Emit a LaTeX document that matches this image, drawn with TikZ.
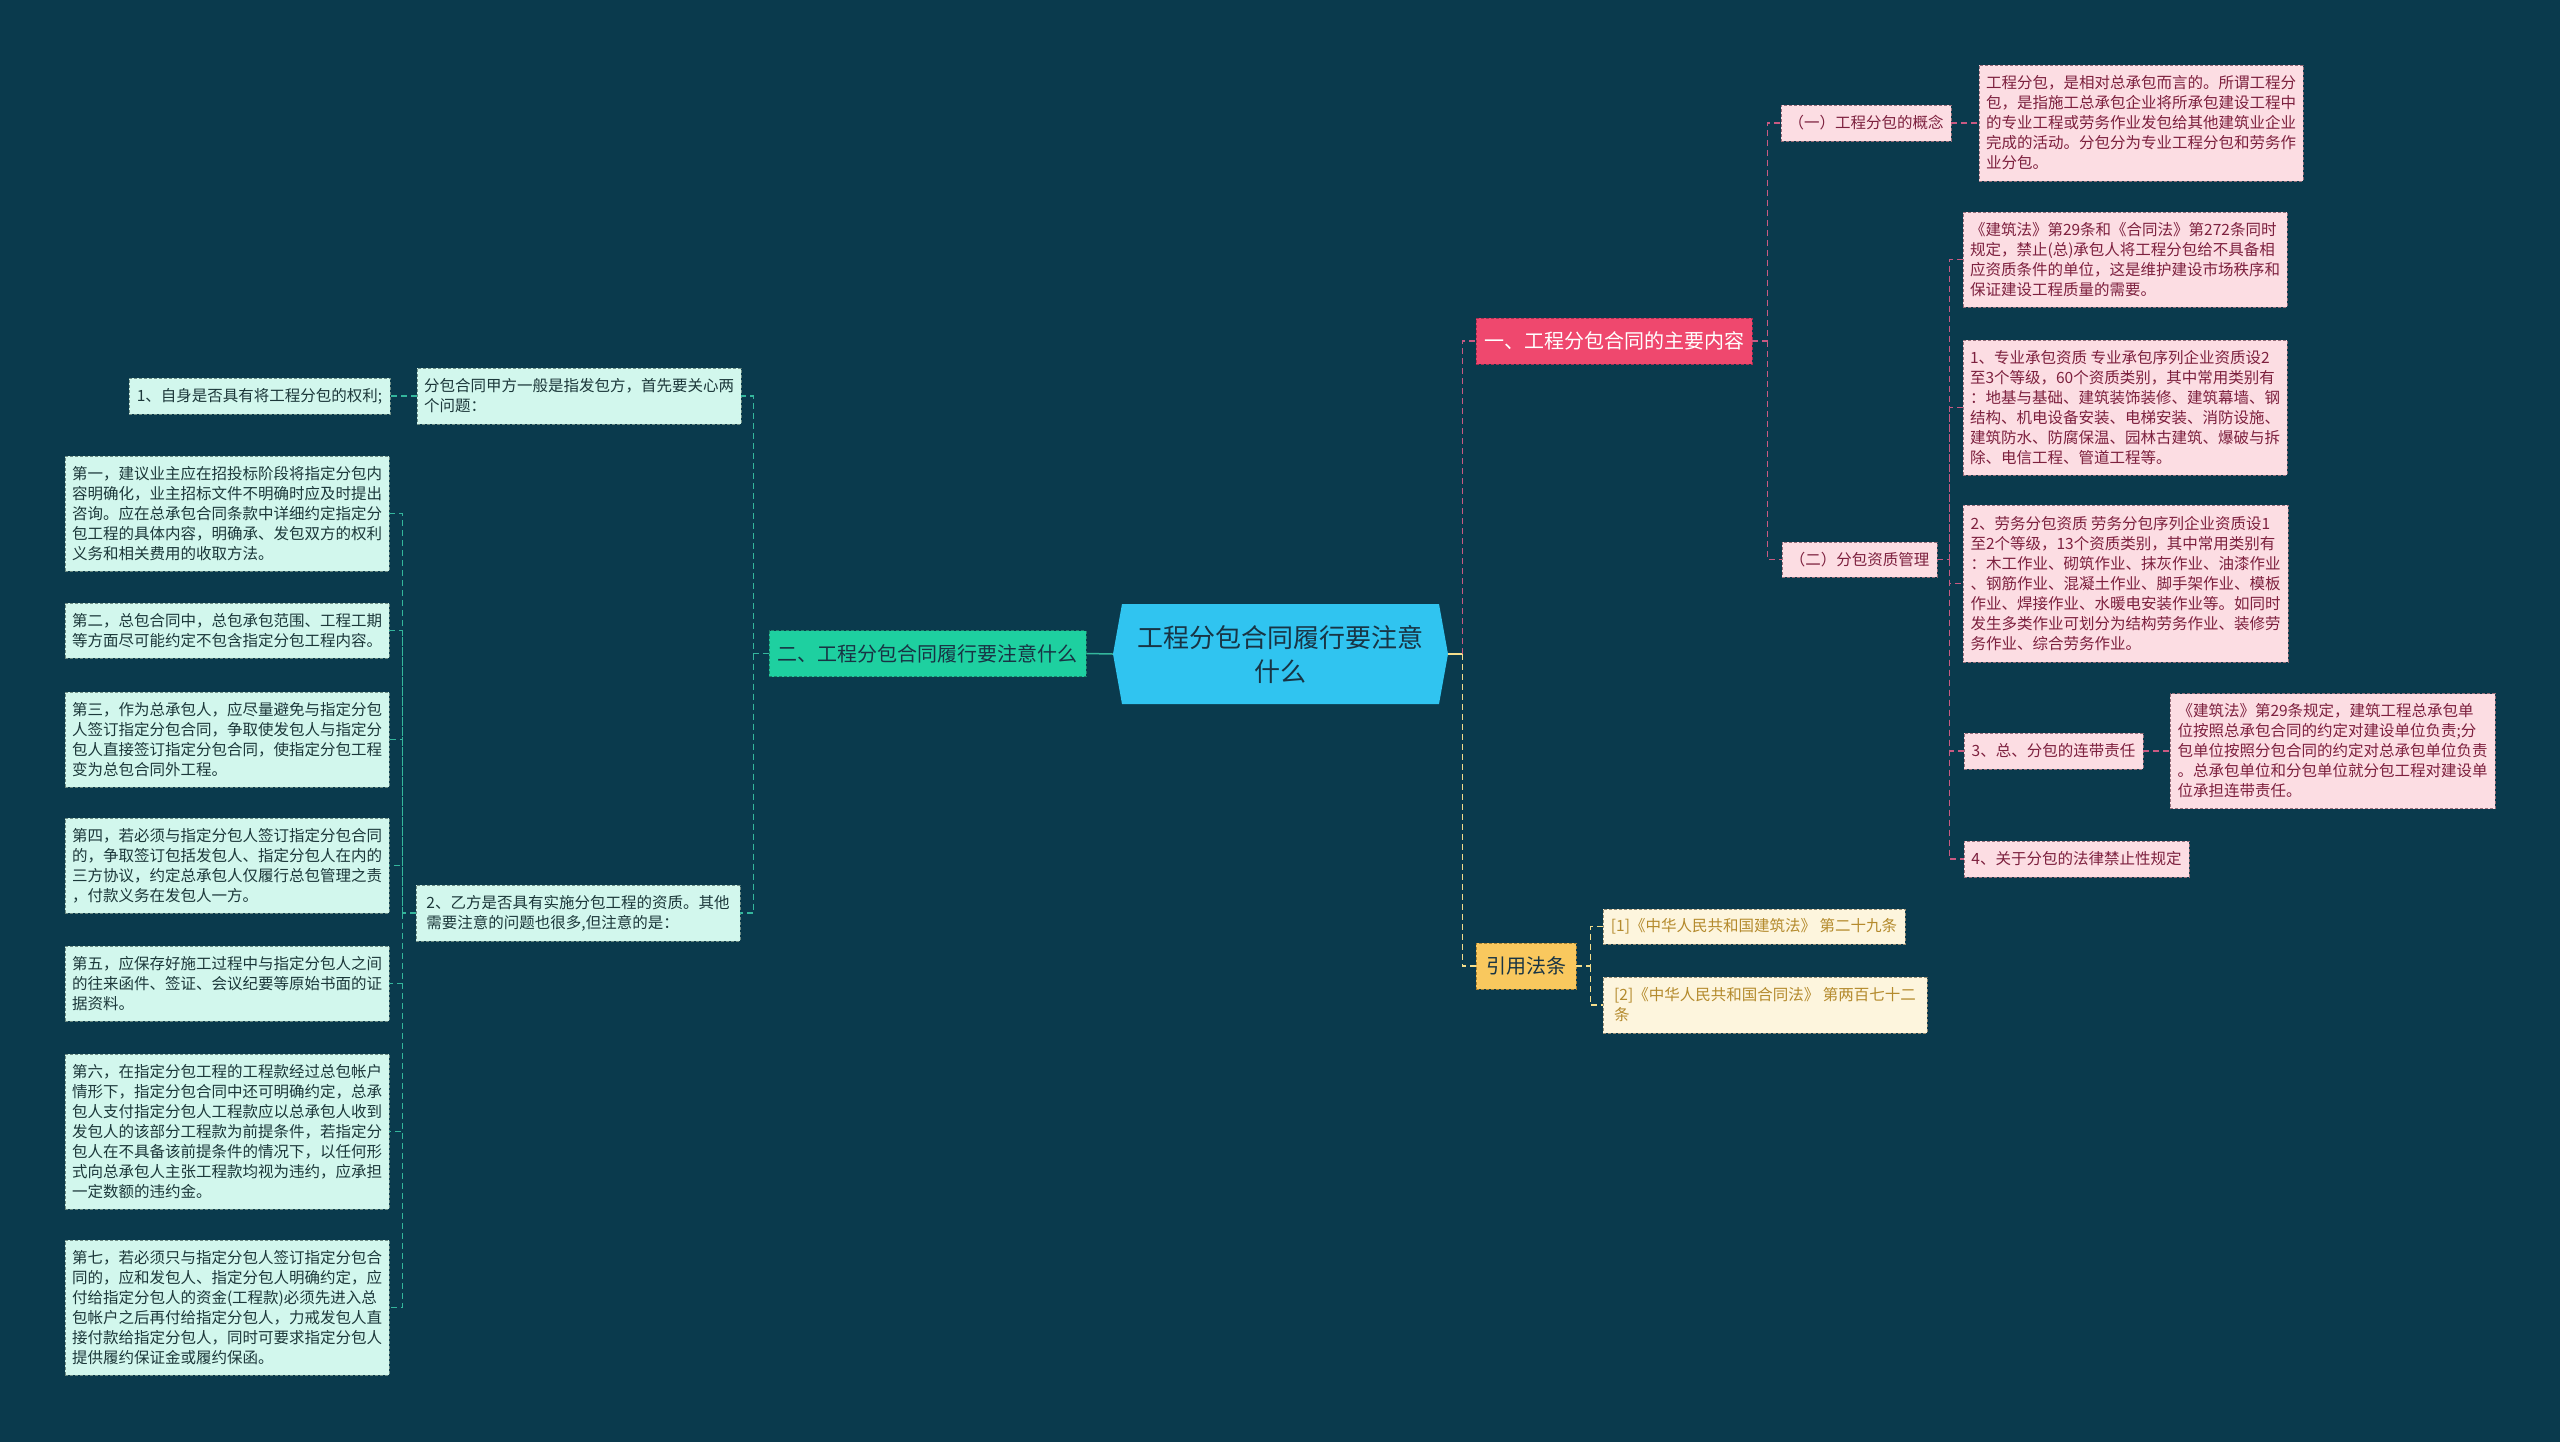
\documentclass[tikz,border=0pt]{standalone}
\usepackage{fontspec}
\setmainfont{Noto Sans CJK SC}
\definecolor{bg}{RGB}{10,58,77}
\definecolor{ctr}{RGB}{48,196,240}
\definecolor{ctt}{RGB}{24,52,68}
\definecolor{bA}{RGB}{239,72,110}
\definecolor{bAb}{RGB}{170,45,80}
\definecolor{pkf}{RGB}{252,221,227}
\definecolor{pkb}{RGB}{150,110,122}
\definecolor{pkt}{RGB}{125,32,62}
\definecolor{pkl}{RGB}{200,90,130}
\definecolor{bB}{RGB}{30,208,160}
\definecolor{bBb}{RGB}{30,130,105}
\definecolor{mtf}{RGB}{210,247,237}
\definecolor{mtb}{RGB}{110,140,132}
\definecolor{mtt}{RGB}{28,56,58}
\definecolor{gl}{RGB}{52,182,156}
\definecolor{bC}{RGB}{249,200,94}
\definecolor{bCb}{RGB}{170,130,50}
\definecolor{crf}{RGB}{253,245,221}
\definecolor{crb}{RGB}{150,140,115}
\definecolor{crt}{RGB}{180,138,44}
\definecolor{yl}{RGB}{244,222,140}
\begin{document}
\begin{tikzpicture}[x=1pt,y=-1pt,
  box/.style={rectangle, inner sep=0pt, line width=0.8pt, dash pattern=on 3pt off 2pt, align=left, font=\fontsize{15.5}{20}\selectfont},
  pk/.style={box, draw=pkb, fill=pkf, text=pkt},
  mt/.style={box, draw=mtb, fill=mtf, text=mtt},
  cr/.style={box, draw=crb, fill=crf, text=crt},
  big/.style={rectangle, inner sep=0pt, line width=0.8pt, dash pattern=on 3pt off 2pt, align=center, font=\fontsize{20}{24}\selectfont},
  pkline/.style={draw=pkl, line width=1.4pt, dash pattern=on 6pt off 4pt},
  gline/.style={draw=gl, line width=1.4pt, dash pattern=on 6pt off 4pt},
  yline/.style={draw=yl, line width=1.4pt, dash pattern=on 6pt off 4pt}
]
\useasboundingbox (0,0) rectangle (2560,1441);
\fill[bg] (-2,-2) rectangle (2562,1443);

% center
\node (c) [rectangle, minimum width=335pt, minimum height=100pt, inner sep=0pt, fill=bg, align=center, text=ctt,
  font=\fontsize{26}{34}\selectfont,
  path picture={\fill[ctr] ([xshift=9pt]path picture bounding box.north west) -- ([xshift=-9pt]path picture bounding box.north east) -- (path picture bounding box.east) -- ([xshift=-9pt]path picture bounding box.south east) -- ([xshift=9pt]path picture bounding box.south west) -- (path picture bounding box.west) -- cycle;}]
  at (1280.5,654) {工程分包合同履行要注意\\什么};

% right branch 1
\node (b1) [big, draw=bAb, fill=bA, text=white, minimum width=276pt, minimum height=46pt] at (1614,341) {一、工程分包合同的主要内容};
\node (s1) [pk, minimum width=170pt, minimum height=36pt] at (1866,123) {（一）工程分包的概念};
\node (concept) [pk, minimum width=324pt, minimum height=116pt] at (2141,123) {工程分包，是相对总承包而言的。所谓工程分\\包，是指施工总承包企业将所承包建设工程中\\的专业工程或劳务作业发包给其他建筑业企业\\完成的活动。分包分为专业工程分包和劳务作\\业分包。};
\node (s2) [pk, minimum width=155pt, minimum height=35pt] at (1859.5,559.5) {（二）分包资质管理};
\node (law1) [pk, minimum width=324pt, minimum height=95pt] at (2125,259.5) {《建筑法》第29条和《合同法》第272条同时\\规定，禁止(总)承包人将工程分包给不具备相\\应资质条件的单位，这是维护建设市场秩序和\\保证建设工程质量的需要。};
\node (spec) [pk, minimum width=324pt, minimum height=135pt] at (2125,407.5) {1、专业承包资质 专业承包序列企业资质设2\\至3个等级，60个资质类别，其中常用类别有\\：地基与基础、建筑装饰装修、建筑幕墙、钢\\结构、机电设备安装、电梯安装、消防设施、\\建筑防水、防腐保温、园林古建筑、爆破与拆\\除、电信工程、管道工程等。};
\node (labor) [pk, minimum width=325pt, minimum height=157pt] at (2125.5,583.5) {2、劳务分包资质 劳务分包序列企业资质设1\\至2个等级，13个资质类别，其中常用类别有\\：木工作业、砌筑作业、抹灰作业、油漆作业\\、钢筋作业、混凝土作业、脚手架作业、模板\\作业、焊接作业、水暖电安装作业等。如同时\\发生多类作业可划分为结构劳务作业、装修劳\\务作业、综合劳务作业。};
\node (joint) [pk, minimum width=179pt, minimum height=36pt] at (2053.5,751) {3、总、分包的连带责任};
\node (jointtxt) [pk, minimum width=325pt, minimum height=115pt] at (2332.5,751) {《建筑法》第29条规定，建筑工程总承包单\\位按照总承包合同的约定对建设单位负责;分\\包单位按照分包合同的约定对总承包单位负责\\。总承包单位和分包单位就分包工程对建设单\\位承担连带责任。};
\node (prohib) [pk, minimum width=225pt, minimum height=36pt] at (2076.5,859) {4、关于分包的法律禁止性规定};

% citations
\node (cite) [big, draw=bCb, fill=bC, text=ctt, minimum width=100pt, minimum height=46pt] at (1526,966) {引用法条};
\node (c1) [cr, minimum width=302pt, minimum height=35pt] at (1754,926.5) {[1]《中华人民共和国建筑法》 第二十九条};
\node (c2) [cr, minimum width=324pt, minimum height=56pt] at (1765,1005) {[2]《中华人民共和国合同法》 第两百七十二\\条};

% left branch
\node (b2) [big, draw=bBb, fill=bB, text=ctt, minimum width=317pt, minimum height=46pt] at (927.5,653.5) {二、工程分包合同履行要注意什么};
\node (parta) [mt, minimum width=324pt, minimum height=56pt] at (579,396) {分包合同甲方一般是指发包方，首先要关心两\\个问题：};
\node (self) [mt, minimum width=261pt, minimum height=36pt] at (259.5,396) {1、自身是否具有将工程分包的权利;};
\node (partb) [mt, minimum width=324pt, minimum height=56pt] at (578,913) {2、乙方是否具有实施分包工程的资质。其他\\需要注意的问题也很多,但注意的是：};
\node (d1) [mt, minimum width=324pt, minimum height=115pt] at (227,513.5) {第一，建议业主应在招投标阶段将指定分包内\\容明确化，业主招标文件不明确时应及时提出\\咨询。应在总承包合同条款中详细约定指定分\\包工程的具体内容，明确承、发包双方的权利\\义务和相关费用的收取方法。};
\node (d2) [mt, minimum width=324pt, minimum height=55pt] at (227,630.5) {第二，总包合同中，总包承包范围、工程工期\\等方面尽可能约定不包含指定分包工程内容。};
\node (d3) [mt, minimum width=324pt, minimum height=95pt] at (227,739.5) {第三，作为总承包人，应尽量避免与指定分包\\人签订指定分包合同，争取使发包人与指定分\\包人直接签订指定分包合同，使指定分包工程\\变为总包合同外工程。};
\node (d4) [mt, minimum width=324pt, minimum height=95pt] at (227,865.5) {第四，若必须与指定分包人签订指定分包合同\\的，争取签订包括发包人、指定分包人在内的\\三方协议，约定总承包人仅履行总包管理之责\\，付款义务在发包人一方。};
\node (d5) [mt, minimum width=324pt, minimum height=75pt] at (227,983.5) {第五，应保存好施工过程中与指定分包人之间\\的往来函件、签证、会议纪要等原始书面的证\\据资料。};
\node (d6) [mt, minimum width=324pt, minimum height=155pt] at (227,1131.5) {第六，在指定分包工程的工程款经过总包帐户\\情形下，指定分包合同中还可明确约定，总承\\包人支付指定分包人工程款应以总承包人收到\\发包人的该部分工程款为前提条件，若指定分\\包人在不具备该前提条件的情况下，以任何形\\式向总承包人主张工程款均视为违约，应承担\\一定数额的违约金。};
\node (d7) [mt, minimum width=324pt, minimum height=135pt] at (227,1307.5) {第七，若必须只与指定分包人签订指定分包合\\同的，应和发包人、指定分包人明确约定，应\\付给指定分包人的资金(工程款)必须先进入总\\包帐户之后再付给指定分包人，力戒发包人直\\接付款给指定分包人，同时可要求指定分包人\\提供履约保证金或履约保函。};

% connectors right
\draw[draw=yl, line width=1.5pt] (c.east) -- ++(14,0) coordinate (rt);
\draw[pkline] (rt) |- (b1.west);
\draw[yline] (rt) |- (cite.west);
\draw[pkline] (b1.east) -- ++(15,0) coordinate (r1) |- (s1.west);
\draw[pkline] (r1) |- (s2.west);
\draw[pkline] (s1.east) -- (concept.west);
\draw[pkline] (s2.east) -- ++(12,0) coordinate (r2) |- (law1.west);
\draw[pkline] (r2) |- (spec.west);
\draw[pkline] (r2) |- (labor.west);
\draw[pkline] (r2) |- (joint.west);
\draw[pkline] (r2) |- (prohib.west);
\draw[pkline] (joint.east) -- (jointtxt.west);
\draw[yline] (cite.east) -- ++(14,0) coordinate (r3) |- (c1.west);
\draw[yline] (r3) |- (c2.west);

% connectors left
\draw[draw=gl, line width=1.5pt] (c.west) -- (b2.east);
\draw[gline] (b2.west) -- ++(-15,0) coordinate (l1) |- (parta.east);
\draw[gline] (l1) |- (partb.east);
\draw[gline] (parta.west) -- (self.east);
\draw[gline] (partb.west) -- ++(-13,0) coordinate (l2) |- (d1.east);
\foreach \n in {d2,d3,d4,d5,d6,d7} \draw[gline] (l2) |- (\n.east);
\end{tikzpicture}
\end{document}
